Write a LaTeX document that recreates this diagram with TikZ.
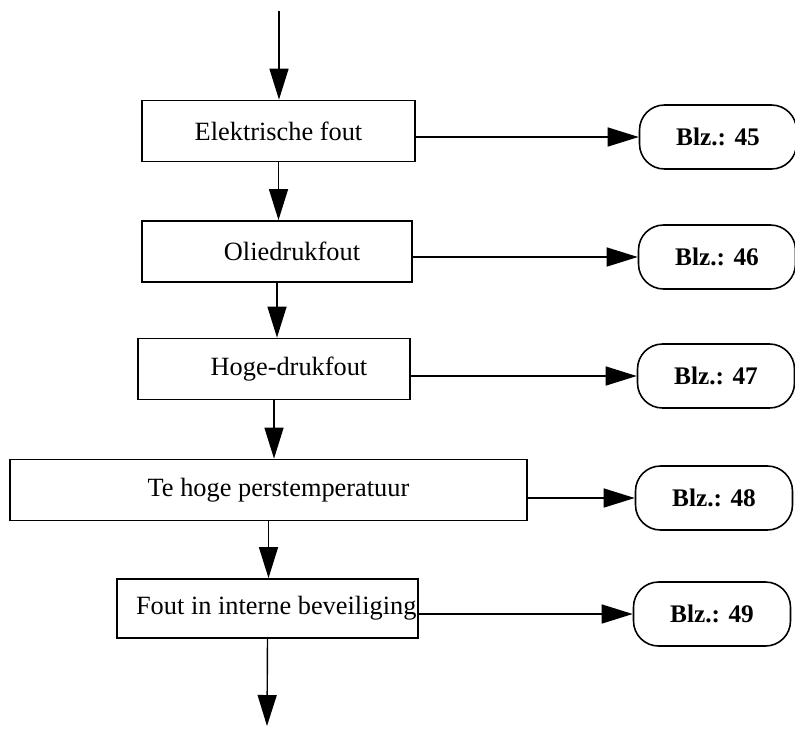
\documentclass[tikz,border=0pt]{standalone}
\usepackage{fontspec}
\setmainfont{Liberation Serif}
\usetikzlibrary{arrows.meta}
\tikzset{
  fout/.style={draw, line width=1pt, minimum height=1.22cm, inner xsep=0pt,
    font=\fontsize{15}{18}\selectfont},
  blz/.style={draw, line width=0.9pt, rounded corners=0.5cm, minimum width=3.14cm,
    minimum height=1.28cm, font=\fontsize{14.4}{17}\selectfont\bfseries},
  pijl/.style={-{Triangle[length=0.62cm,width=0.38cm]}, line width=0.8pt}
}
\begin{document}
\begin{tikzpicture}[x=0.02cm, y=-0.02cm]
    \useasboundingbox (0,0) rectangle (795,728);
    % Left: foutmeldingen
    \node[fout, minimum width=5.46cm] (elek) at (278.5,131) {Elektrische fout};
    \node[fout, minimum width=5.40cm] (olie) at (277,251.5) {\hspace*{0.6cm}Oliedrukfout};
    \node[fout, minimum width=5.44cm] (hoge) at (274,369) {\hspace*{0.6cm}Hoge-drukfout};
    \node[fout, minimum width=10.34cm] (pers) at (268.5,490) {\hspace*{0.4cm}Te hoge perstemperatuur};
    \node[fout, minimum width=6.02cm, minimum height=1.18cm] (intern) at (267.5,608.5) {\hspace*{0.35cm}Fout in interne beveiliging};
    \coordinate (begin) at (279,11);
    \coordinate (eind) at (267,726);
    % Right: bladzijden
    \node[blz] (b45) at (718,137) {Blz.: 45};
    \node[blz] (b46) at (717,257) {Blz.: 46};
    \node[blz] (b47) at (716,376) {Blz.: 47};
    \node[blz] (b48) at (714,498) {Blz.: 48};
    \node[blz] (b49) at (712,614) {Blz.: 49};
    % vertical flow
    \draw[pijl] (begin) -- (begin |- elek.north);
    \draw[pijl] (elek.south) -- (elek.south |- olie.north);
    \draw[pijl] (olie.south) -- (olie.south |- hoge.north);
    \draw[pijl] (hoge.south) -- (hoge.south |- pers.north);
    \draw[pijl] (pers.south) -- (pers.south |- intern.north);
    \draw[pijl] (intern.south) -- (eind);
    % horizontal links
    \draw[pijl] (elek.east |- b45.west) -- (b45.west);
    \draw[pijl] (olie.east |- b46.west) -- (b46.west);
    \draw[pijl] (hoge.east |- b47.west) -- (b47.west);
    \draw[pijl] (pers.east |- b48.west) -- (b48.west);
    \draw[pijl] (intern.east |- b49.west) -- (b49.west);
\end{tikzpicture}
\end{document}
